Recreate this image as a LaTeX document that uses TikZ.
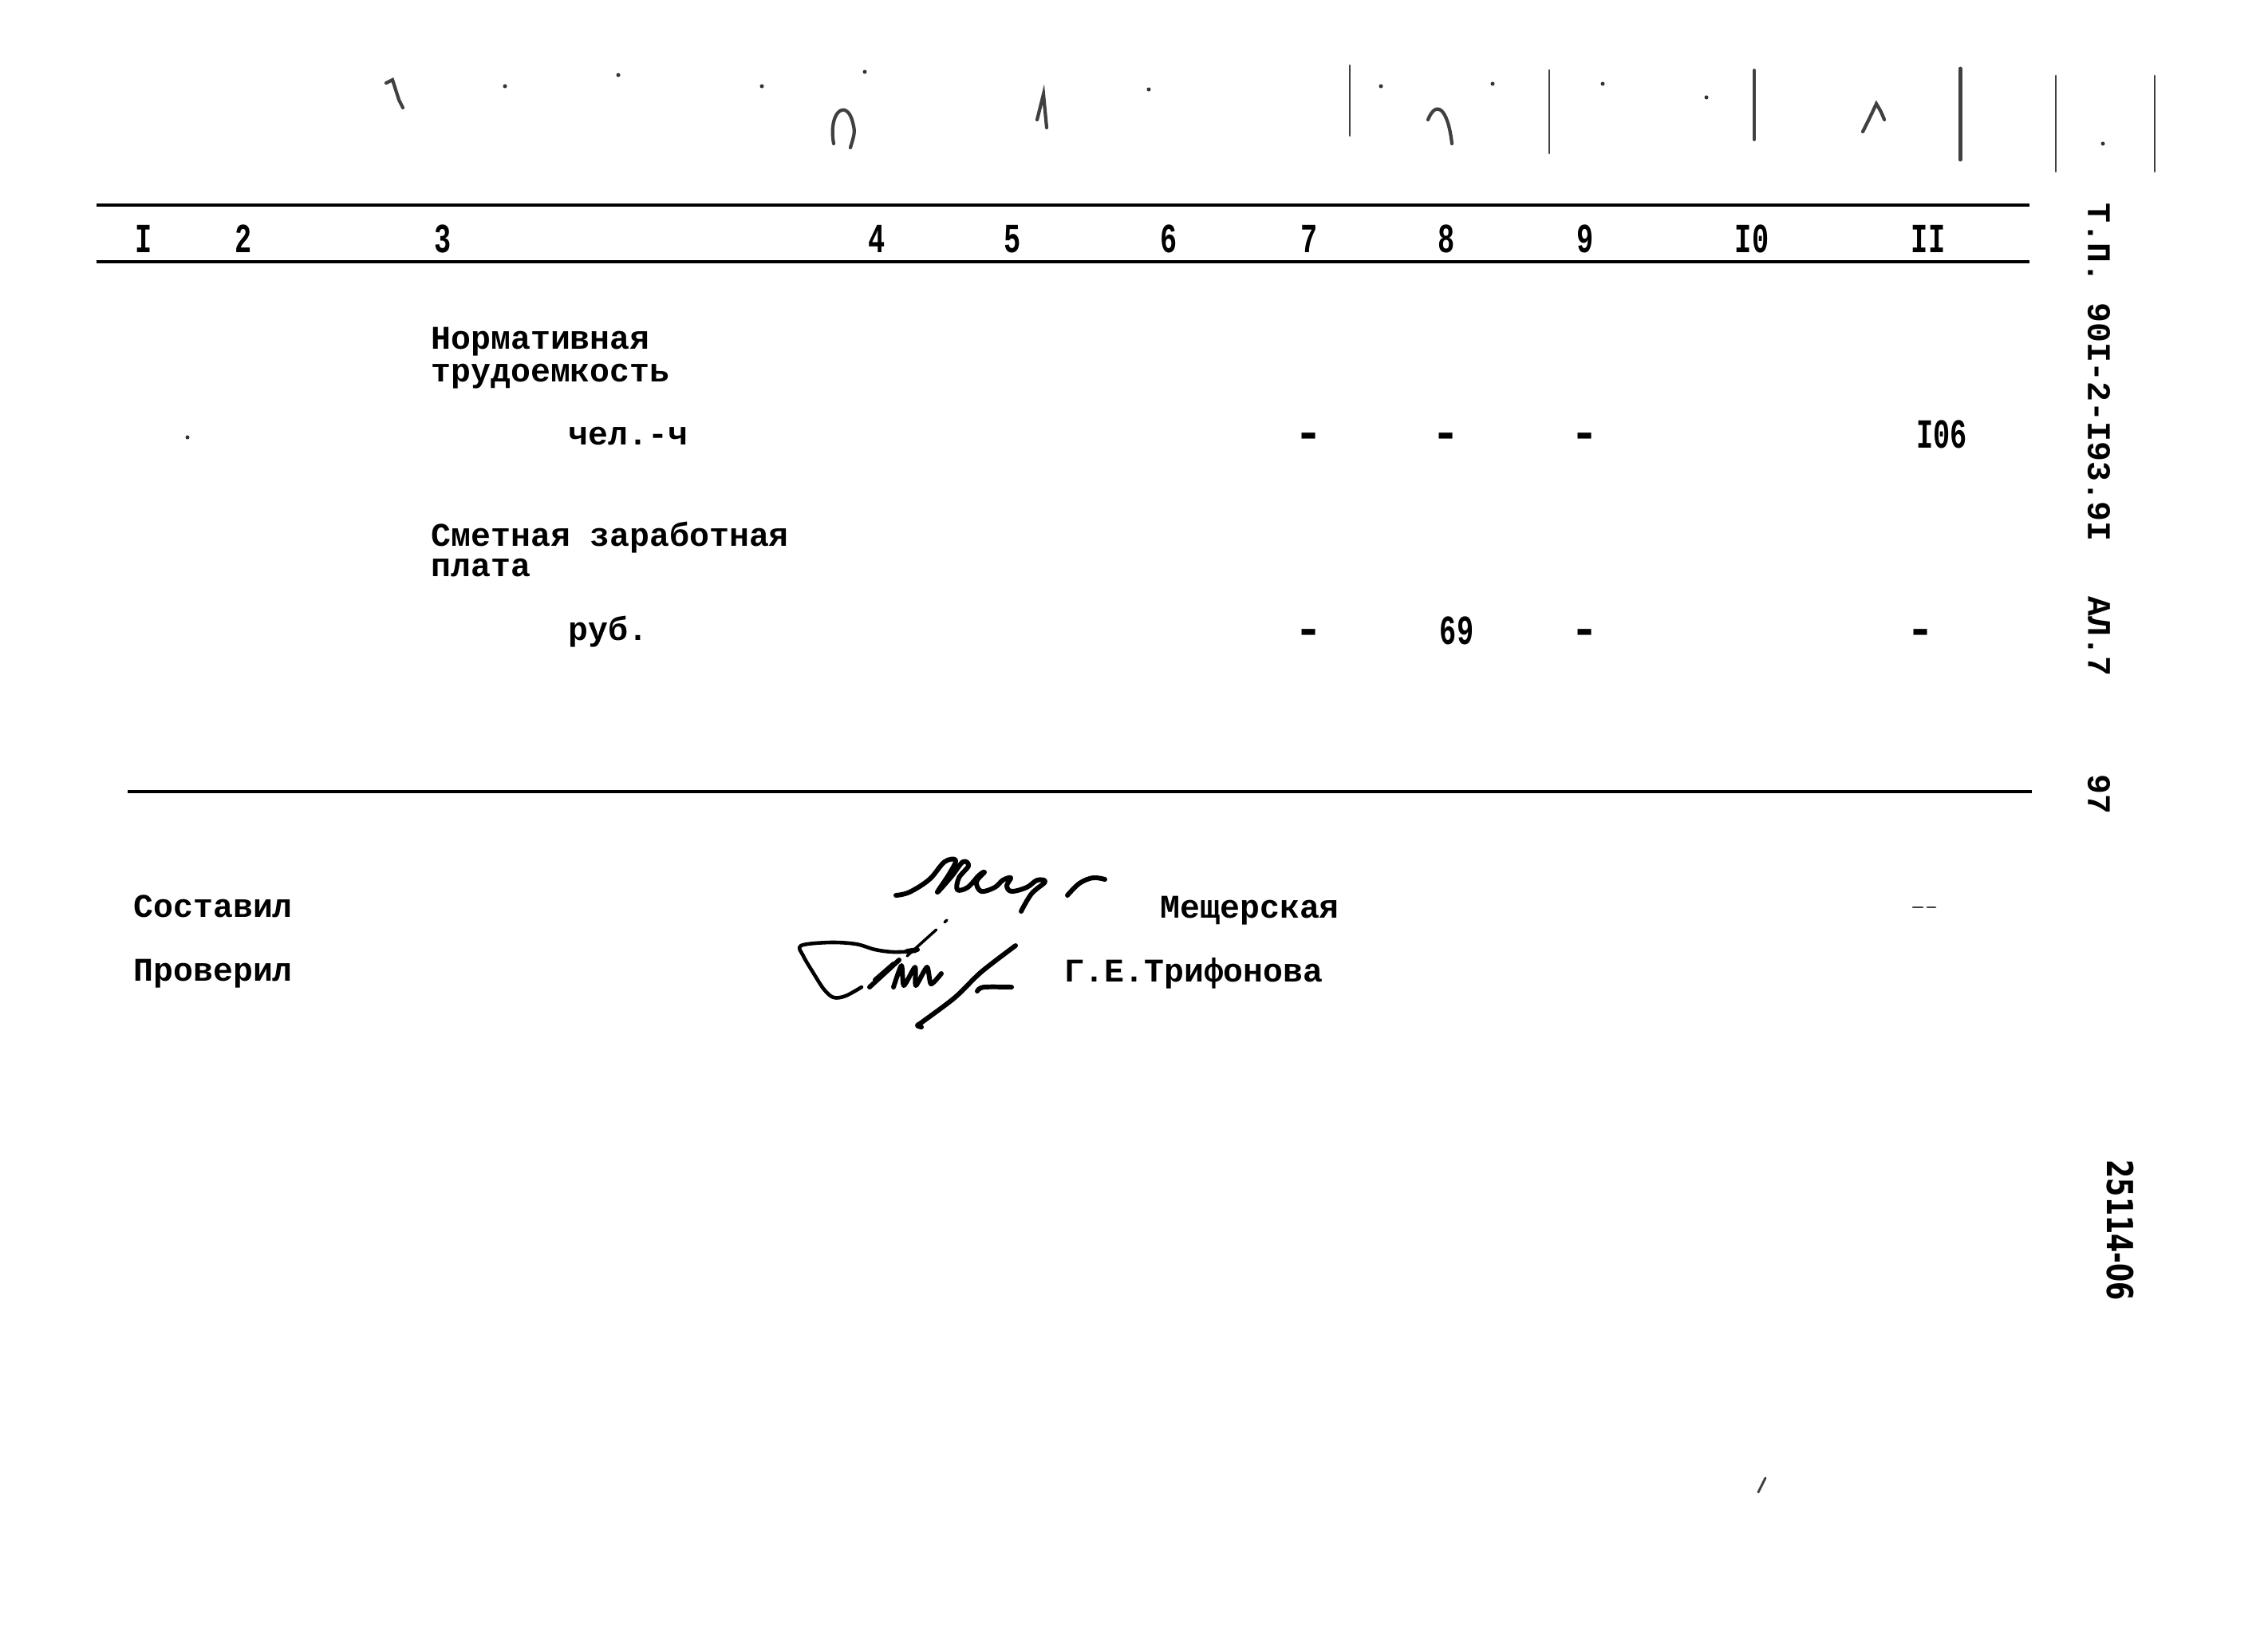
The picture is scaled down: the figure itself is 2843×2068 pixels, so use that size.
\documentclass[tikz,border=0pt]{standalone}
\usepackage{fontspec}
\usepackage{graphicx}
\newfontfamily\tw{Liberation Mono}
\newfontfamily\stampfont{DejaVu Sans}
\newcommand\twf{\tw\bfseries\fontsize{11.8pt}{14pt}\selectfont}
\newcommand\tallnum[1]{\scalebox{0.85}[1.25]{#1}}
\newcommand\fatdash{\scalebox{1.45}[1.5]{-}}
\newcommand\stampf{\stampfont\bfseries\fontsize{12.8pt}{14pt}\selectfont}
\begin{document}
\begin{tikzpicture}[x=0.01cm,y=-0.01cm]
\useasboundingbox (0,0) rectangle (2843,2068);
\fill[white] (0,0) rectangle (2843,2068);
\tikzset{
  rulel/.style={line width=0.95pt, black},
  lbl/.style={anchor=base west, inner sep=0pt, font=\twf},
  val/.style={anchor=base, inner sep=0pt, font=\twf},
  side/.style={anchor=west, inner sep=0pt, rotate=-90, font=\twf},
  sig/.style={line width=1.7pt, line cap=round, line join=round},
  speck/.style={black!75, line cap=round, line width=0.8pt},
}
% rules
\coordinate (t1l) at (121,257); \coordinate (t1r) at (2544,257);
\coordinate (t2l) at (121,328); \coordinate (t2r) at (2544,328);
\coordinate (b1l) at (160,992); \coordinate (b1r) at (2547,992);
\draw[rulel] (t1l) -- (t1r);
\draw[rulel] (t2l) -- (t2r);
\draw[rulel] (b1l) -- (b1r);
% header
\node[val] (h1) at (180,316) {\tallnum{I}};
\node[val] (h2) at (305,316) {\tallnum{2}};
\node[val] (h3) at (555,316) {\tallnum{3}};
\node[val] (h4) at (1099,316) {\tallnum{4}};
\node[val] (h5) at (1269,316) {\tallnum{5}};
\node[val] (h6) at (1465,316) {\tallnum{6}};
\node[val] (h7) at (1641,316) {\tallnum{7}};
\node[val] (h8) at (1813,316) {\tallnum{8}};
\node[val] (h9) at (1987,316) {\tallnum{9}};
\node[val] (h10) at (2196,316) {\tallnum{I0}};
\node[val] (h11) at (2417,316) {\tallnum{II}};
% body
\node[lbl] (n1) at (540,437) {Нормативная};
\node[lbl] (n2) at (540,478) {трудоемкость};
\node[lbl] (u1) at (712,557) {чел.-ч};
\node[val] (r1c7) at (1641,562) {\fatdash};
\node[val] (r1c8) at (1813,562) {\fatdash};
\node[val] (r1c9) at (1987,562) {\fatdash};
\node[val] (r1c11) at (2434,561) {\tallnum{I06}};
\node[lbl] (s1) at (540,684) {Сметная заработная};
\node[lbl] (s2) at (540,722) {плата};
\node[lbl] (u2) at (712,802) {руб.};
\node[val] (r2c7) at (1641,808) {\fatdash};
\node[val] (r2c8) at (1826,807) {\tallnum{69}};
\node[val] (r2c9) at (1987,808) {\fatdash};
\node[val] (r2c11) at (2408,808) {\fatdash};
% signatures block
\node[lbl] (sost) at (167,1149) {Составил};
\node[lbl] (prov) at (167,1229) {Проверил};
\node[lbl] (mesh) at (1454,1150) {Мещерская};
\node[lbl] (trif) at (1334,1230) {Г.Е.Трифонова};
% side texts
\node[side] (tp) at (2631,254) {Т.П. 90I-2-I93.9I};
\node[side] (al) at (2631,747) {АЛ.7};
\node[side] (pg) at (2631,970) {97};
\node[anchor=west, rotate=-90, inner sep=0pt, font=\stampf] (stamp) at (2658,1453) {\scalebox{0.74}[1]{25114-06}};
% handwritten signature 1
\draw[sig] plot[smooth, tension=0.6] coordinates {
 (1123,1122) (1140,1118) (1165,1102) (1184,1080) (1198,1078) (1190,1095)
 (1175,1118) (1193,1098) (1207,1080) (1214,1085) (1202,1100) (1200,1115)
 (1213,1112) (1227,1097) (1234,1093) (1224,1105) (1230,1117) (1247,1112)
 (1257,1103) (1267,1100) (1262,1110) (1268,1117) (1287,1112) (1300,1103)
 (1310,1105) (1293,1120) (1280,1142)};
\draw[sig] plot[smooth, tension=0.6] coordinates {(1338,1122) (1353,1107) (1370,1100) (1385,1102)};
% handwritten signature 2
\draw[sig, line width=1.3pt] plot[smooth, tension=0.55] coordinates {
 (1147,1192) (1120,1193) (1097,1190) (1073,1183) (1040,1181) (1004,1185)
 (1007,1198) (1020,1220) (1033,1240) (1045,1250) (1060,1248) (1080,1237)};
\draw[sig] (1090,1237) -- (1127,1203);
\draw[sig] (1097,1228) -- (1120,1208);
\draw[sig] (1137,1192) -- (1150,1190);
\draw[sig, line width=1pt, dash pattern=on 14pt off 4pt] (1137,1198) -- (1187,1153);
\draw[sig] plot[smooth, tension=0.4] coordinates {
 (1120,1237) (1130,1210) (1133,1235) (1147,1212) (1148,1235) (1162,1212)
 (1167,1233) (1180,1220)};
\draw[sig] plot[smooth, tension=0.5] coordinates {
 (1273,1185) (1230,1218) (1197,1250) (1157,1280) (1150,1285) (1155,1287)};
\draw[sig] plot[smooth, tension=0.5] coordinates {(1225,1242) (1233,1237) (1268,1237)};
% scan specks and marks
\draw[speck, line width=1.4pt] (2457,86) -- (2457,200);
\draw[speck, line width=1.1pt] (2199,88) -- (2199,175);
\draw[speck] (1942,88) -- (1942,192);
\draw[speck] (1692,82) -- (1692,170);
\draw[speck] (2577,95) -- (2577,215);
\draw[speck] (2701,95) -- (2701,215);
\draw[speck, line width=1.2pt] (1045,180) .. controls (1038,140) and (1060,125) .. (1068,150) .. controls (1072,165) .. (1066,185);
\draw[speck, line width=1.2pt] (1790,150) .. controls (1800,125) and (1815,135) .. (1820,180);
\draw[speck, line width=1.2pt] (2335,165) .. controls (2345,145) .. (2352,130) .. controls (2358,140) .. (2362,150);
\draw[speck, line width=1.2pt] (1300,150) -- (1308,118) -- (1312,160);
\draw[speck, line width=1.2pt] (484,104) -- (492,100) -- (500,125) -- (505,135);
\foreach \p in {(633,108),(775,94),(955,108),(1084,90),(1440,112),(1731,108),(1871,105),(2009,105),(2139,122),(2636,180),(235,548)}
  \fill[black!80] \p circle (2.5);
\draw[speck] (2398,1137) -- (2410,1137);
\draw[speck] (2416,1137) -- (2426,1137);
\draw[speck] (2213,1852) -- (2204,1870);
\end{tikzpicture}
\end{document}
